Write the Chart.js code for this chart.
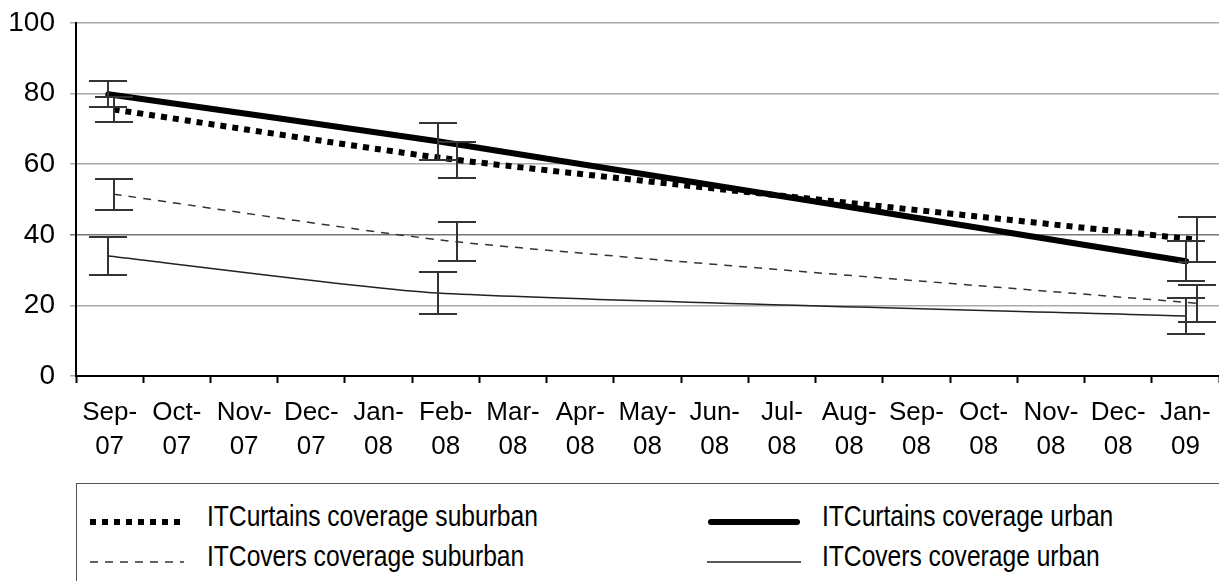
<!DOCTYPE html>
<html>
<head>
<meta charset="utf-8">
<script src="https://cdn.jsdelivr.net/npm/chart.js@4.4.1/dist/chart.umd.min.js"></script>
<style>
  body { margin: 0; background: #fff; overflow: hidden; width: 1219px; height: 581px; position: relative; }
  #wrap { position: absolute; left: 0; top: 0; width: 1219px; height: 475px; }
  #legend { position: absolute; left: 76px; top: 483px; width: 1200px; height: 140px; border: 1.5px solid #555; box-sizing: border-box; }
  .sample { position: absolute; }
  .label { position: absolute; font: 30px "Liberation Sans", Arial, sans-serif; line-height: 30px;
           transform: scaleX(0.82); transform-origin: 0 0; white-space: nowrap; color: #000; }
</style>
</head>
<body>
<div id="wrap"><canvas id="chart"></canvas></div>
<div id="legend"></div>
<div id="legendItems"></div>
<script>
const monthLabels = [
  ['Sep-', '07'], ['Oct-', '07'], ['Nov-', '07'], ['Dec-', '07'], ['Jan-', '08'], ['Feb-', '08'],
  ['Mar-', '08'], ['Apr-', '08'], ['May-', '08'], ['Jun-', '08'], ['Jul-', '08'], ['Aug-', '08'],
  ['Sep-', '08'], ['Oct-', '08'], ['Nov-', '08'], ['Dec-', '08'], ['Jan-', '09']
];
const yTicks = [0, 20, 40, 60, 80, 100];

// survey dates, in months counted from the start of Sep-07
const urbanDates = [0.48, 5.38, 16.51];
const suburbanDates = [0.56, 5.67, 16.67];

const curtainsSuburban = [75.5, 61.2, 38.6];
const curtainsSuburbanErr = [3.6, 5.0, 6.4];
const curtainsUrban = [79.8, 66.5, 32.5];
const curtainsUrbanErr = [3.7, 5.2, 5.7];
const coversSuburban = [51.5, 38.0, 20.6];
const coversSuburbanErr = [4.4, 5.5, 5.2];
const coversUrban = [34.0, 23.5, 17.0];
const coversUrbanErr = [5.3, 6.0, 5.2];

const seriesNames = [
  'ITCurtains coverage suburban', 'ITCurtains coverage urban',
  'ITCovers coverage suburban', 'ITCovers coverage urban'
];

function points(dates, values) {
  return values.map((v, i) => ({ x: dates[i], y: v }));
}

const datasets = [
  { label: seriesNames[0], data: points(suburbanDates, curtainsSuburban), errors: curtainsSuburbanErr,
    borderColor: '#000', borderWidth: 6, borderDash: [6, 6], borderCapStyle: 'butt' },
  { label: seriesNames[1], data: points(urbanDates, curtainsUrban), errors: curtainsUrbanErr,
    borderColor: '#000', borderWidth: 6, borderCapStyle: 'round' },
  { label: seriesNames[2], data: points(suburbanDates, coversSuburban), errors: coversSuburbanErr,
    borderColor: '#333', borderWidth: 1.5, borderDash: [8, 7] },
  { label: seriesNames[3], data: points(urbanDates, coversUrban), errors: coversUrbanErr,
    borderColor: '#222', borderWidth: 1.5 }
];
datasets.forEach(d => { d.pointRadius = 0; d.tension = 0.2; d.fill = false; });

// error bars drawn on top of the lines
const errorBars = {
  id: 'errorBars',
  afterDatasetsDraw(chart) {
    const ctx = chart.ctx;
    const y = chart.scales.y;
    chart.data.datasets.forEach((ds, i) => {
      const meta = chart.getDatasetMeta(i);
      ctx.save();
      ctx.strokeStyle = '#333';
      ctx.lineWidth = 2;
      meta.data.forEach((pt, j) => {
        const v = ds.data[j].y, e = ds.errors[j];
        const top = Math.round(y.getPixelForValue(v + e));
        const bot = Math.round(y.getPixelForValue(v - e));
        const x = Math.round(pt.x);
        ctx.beginPath();
        ctx.moveTo(x, top); ctx.lineTo(x, bot);
        ctx.moveTo(x - 19, top); ctx.lineTo(x + 19, top);
        ctx.moveTo(x - 19, bot); ctx.lineTo(x + 19, bot);
        ctx.stroke();
      });
      ctx.restore();
    });
  }
};

new Chart(document.getElementById('chart'), {
  type: 'line',
  data: { datasets: datasets },
  options: {
    responsive: true,
    maintainAspectRatio: false,
    animation: false,
    layout: { padding: { top: 23, left: 0, right: 0, bottom: 0 } },
    plugins: { legend: { display: false }, tooltip: { enabled: false } },
    scales: {
      x: {
        type: 'linear',
        min: 0,
        max: monthLabels.length,
        afterBuildTicks: (scale) => {
          const t = [];
          for (let i = 0; i <= monthLabels.length * 2; i++) t.push({ value: i / 2 });
          scale.ticks = t;
        },
        afterFit: (scale) => {
          scale.height = 99;
          scale.paddingLeft = 0;
          scale.paddingRight = 0;
        },
        ticks: {
          autoSkip: false,
          maxRotation: 0,
          minRotation: 0,
          padding: 13,
          color: '#000',
          font: { family: '"Liberation Sans", Arial, sans-serif', size: 26, lineHeight: 1.3 },
          callback: (value) => Number.isInteger(value) ? '' : monthLabels[Math.floor(value)]
        },
        grid: {
          drawOnChartArea: false,
          tickLength: 7,
          tickWidth: 2,
          tickColor: (c) => (c.tick && Number.isInteger(c.tick.value)) ? '#000' : 'rgba(0,0,0,0)'
        },
        border: { color: '#000', width: 2 }
      },
      y: {
        min: 0,
        max: 100,
        afterBuildTicks: (scale) => { scale.ticks = yTicks.map(v => ({ value: v })); },
        afterFit: (scale) => {
          scale.width = 76;
          scale.paddingTop = 0;
          scale.paddingBottom = 0;
        },
        ticks: {
          padding: 15,
          color: '#000',
          font: { family: '"Liberation Sans", Arial, sans-serif', size: 28 }
        },
        grid: {
          tickLength: 6,
          lineWidth: 1.5,
          color: (c) => (c.tick && c.tick.value === 40) ? '#777' : '#aaa'
        },
        border: { color: '#000', width: 2 }
      }
    }
  },
  plugins: [errorBars]
});

// legend box, two columns, built from the dataset styles
const legendSlots = [
  { ds: 0, sx: 90, tx: 207, row: 0 },
  { ds: 1, sx: 707, tx: 822, row: 0 },
  { ds: 2, sx: 90, tx: 207, row: 1 },
  { ds: 3, sx: 707, tx: 822, row: 1 }
];
const rowY = [522, 562];
const holder = document.getElementById('legendItems');
legendSlots.forEach(s => {
  const ds = datasets[s.ds];
  const svg = document.createElementNS('http://www.w3.org/2000/svg', 'svg');
  svg.setAttribute('width', 94);
  svg.setAttribute('height', 12);
  svg.setAttribute('class', 'sample');
  svg.style.left = s.sx + 'px';
  svg.style.top = (rowY[s.row] - 6) + 'px';
  const ln = document.createElementNS('http://www.w3.org/2000/svg', 'line');
  const round = ds.borderCapStyle === 'round';
  ln.setAttribute('x1', round ? 4 : 0);
  ln.setAttribute('x2', round ? 90 : 94);
  ln.setAttribute('y1', 6);
  ln.setAttribute('y2', 6);
  ln.setAttribute('stroke', ds.borderColor);
  ln.setAttribute('stroke-width', ds.borderWidth);
  ln.setAttribute('stroke-linecap', round ? 'round' : 'butt');
  if (ds.borderDash) ln.setAttribute('stroke-dasharray', ds.borderDash.join(' '));
  svg.appendChild(ln);
  holder.appendChild(svg);
  const sp = document.createElement('div');
  sp.className = 'label';
  sp.textContent = ds.label;
  sp.style.left = s.tx + 'px';
  sp.style.top = (rowY[s.row] - 21) + 'px';
  holder.appendChild(sp);
});
</script>
</body>
</html>
